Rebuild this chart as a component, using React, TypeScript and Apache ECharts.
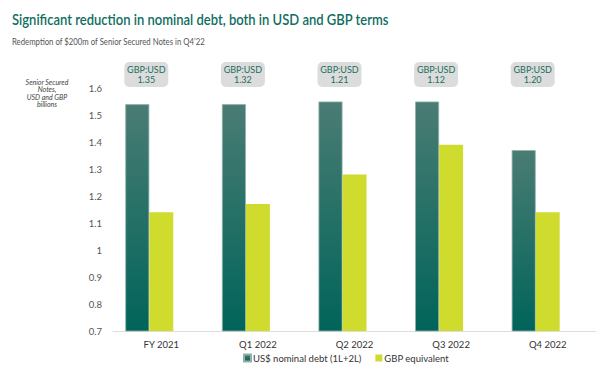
import React, { useEffect, useRef } from "react";
import * as echarts from "echarts";

const categories = ["FY 2021", "Q1 2022", "Q2 2022", "Q3 2022", "Q4 2022"];
const usdDebt = [1.54, 1.54, 1.55, 1.55, 1.37];
const gbpEquivalent = [1.14, 1.17, 1.28, 1.39, 1.14];
const spacer: (number | null)[] = [null, null, null, null, null];
const fxRates = ["1.35", "1.32", "1.21", "1.12", "1.20"];
const yTicks = { min: 0.7, max: 1.6, interval: 0.1 };

export default function App() {
  const ref = useRef<HTMLDivElement>(null);
  useEffect(() => {
    document.body.style.margin = "0";
    if (!ref.current) return;
    const chart = echarts.init(ref.current, null, { renderer: "svg" });
    const green = "#0f6e5f";
    chart.setOption({
      animation: false,
      backgroundColor: "#ffffff",
      textStyle: { fontFamily: "Lato, 'Noto Sans', sans-serif" },
      graphic: [
        {
          type: "text",
          x: 12,
          y: 11,
          scaleX: 0.84,
          style: {
            text: "Significant reduction in nominal debt, both in USD and GBP terms",
            font: "600 15.5px Lato, sans-serif",
            fill: green,
          },
        },
        {
          type: "text",
          x: 12,
          y: 36,
          scaleX: 0.82,
          style: {
            text: "Redemption of $200m of Senior Secured Notes in Q4\u201922",
            font: "9.5px Lato, sans-serif",
            fill: "#555555",
          },
        },
        {
          type: "text",
          x: 47,
          y: 78,
          style: {
            text: "Senior Secured\nNotes,\nUSD and GBP\nbillions",
            font: "italic 7px Lato, sans-serif",
            fill: "#444444",
            align: "center",
            lineHeight: 7.5,
          },
        },
      ],
      legend: {
        left: 238,
        bottom: 5,
        itemWidth: 7,
        itemHeight: 7,
        itemGap: 14,
        icon: "rect",
        data: ["US$ nominal debt (1L+2L)", "GBP equivalent"],
        textStyle: { fontSize: 9.5, color: "#333333", padding: [0, 0, 0, -3] },
      },
      grid: { left: 113, right: 20, top: 88, bottom: 42 },
      xAxis: {
        type: "category",
        data: categories,
        axisLine: { lineStyle: { color: "#dddddd", width: 1 } },
        axisTick: { show: false },
        axisLabel: { color: "#333333", fontSize: 9.5, margin: 8 },
      },
      yAxis: {
        type: "value",
        min: yTicks.min,
        max: yTicks.max,
        interval: yTicks.interval,
        splitLine: { show: false },
        axisLine: { show: false },
        axisTick: { show: false },
        axisLabel: { color: "#555555", fontSize: 9.5, margin: 11 },
      },
      series: [
        {
          name: "US$ nominal debt (1L+2L)",
          type: "bar",
          data: usdDebt,
          barWidth: 24,
          barGap: "0%",
          itemStyle: {
            color: new echarts.graphic.LinearGradient(0, 0, 0, 1, [
              { offset: 0, color: "#4a7c73" },
              { offset: 1, color: "#00645a" },
            ]),
            borderColor: "#8fb3ab",
            borderWidth: 0.8,
          },
        },
        {
          name: "GBP equivalent",
          type: "bar",
          data: gbpEquivalent,
          barWidth: 24,
          barGap: "0%",
          itemStyle: { color: "#cfdc2e" },
        },
        {
          name: "spacer",
          type: "bar",
          data: spacer,
          barWidth: 24,
          barGap: "0%",
          itemStyle: { color: "#e0e0e0" },
        },
        {
          name: "fx",
          type: "custom",
          clip: false,
          silent: true,
          data: fxRates.map((r, i) => [i, yTicks.max, r]),
          renderItem: (params: any, api: any) => {
            const idx = api.value(0);
            const pt = api.coord([idx, yTicks.max]);
            const left = pt[0] - 37;
            const top = pt[1] - 26;
            return {
              type: "group",
              children: [
                {
                  type: "rect",
                  shape: { x: left, y: top, width: 44, height: 25, r: 5 },
                  style: { fill: "#dcdcdc" },
                },
                {
                  type: "text",
                  style: {
                    text: "GBP:USD\n" + fxRates[idx],
                    x: left + 22,
                    y: top + 12.5,
                    align: "center",
                    verticalAlign: "middle",
                    fill: "#1a6e5e",
                    font: "9px Lato, sans-serif",
                    lineHeight: 10.5,
                  },
                },
              ],
            };
          },
        },
      ],
    });
    return () => chart.dispose();
  }, []);
  return <div ref={ref} style={{ width: 616, height: 373 }} />;
}
